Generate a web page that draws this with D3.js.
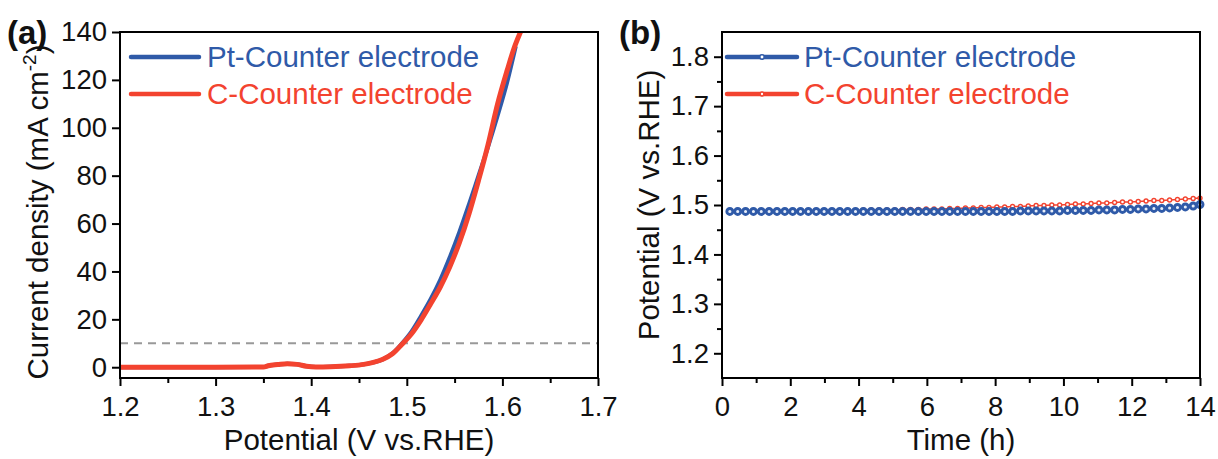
<!DOCTYPE html>
<html>
<head>
<meta charset="utf-8">
<script src="https://cdn.jsdelivr.net/npm/d3@7"></script>
<style>
  body { margin: 0; background: #fff; }
  svg { font-family: "Liberation Sans", Arial, sans-serif; }
  .axis path, .axis line { stroke: #000; stroke-width: 2; }
  .axis text { font-size: 27.5px; fill: #111; font-family: "Liberation Sans", Arial, sans-serif; }
</style>
</head>
<body>
<svg id="chart" width="1218" height="459"></svg>
<script>
// (a) LSV curves
var potC = [1.200, 1.250, 1.300, 1.350, 1.355, 1.365, 1.375, 1.385, 1.395, 1.405, 1.420, 1.440, 1.455, 1.465, 1.475, 1.485, 1.495, 1.505, 1.515, 1.525, 1.535, 1.545, 1.555, 1.565, 1.575, 1.585, 1.595, 1.605, 1.612, 1.620];
var curC = [0, 0, 0, 0.1, 0.6, 1.1, 1.5, 1.2, 0.4, 0.1, 0.2, 0.6, 1.2, 2.0, 3.3, 5.6, 9.6, 14.0, 19.8, 26.5, 33.5, 42, 52, 64, 78, 93, 110, 124, 133, 141];
var potPt = [1.200, 1.250, 1.300, 1.350, 1.355, 1.365, 1.375, 1.385, 1.395, 1.405, 1.420, 1.440, 1.455, 1.465, 1.475, 1.485, 1.495, 1.505, 1.515, 1.525, 1.535, 1.545, 1.555, 1.565, 1.575, 1.585, 1.595, 1.605, 1.614];
var curPt = [0, 0, 0, 0.1, 0.6, 1.1, 1.5, 1.2, 0.4, 0.1, 0.2, 0.6, 1.2, 2.0, 3.3, 5.8, 10, 15, 21.5, 28.5, 36.5, 46, 56.5, 68, 80, 92, 105, 119, 134];
var refCurrent = 10;

// (b) chronopotentiometry
var timeH = [0.23, 0.46, 0.69, 0.92, 1.15, 1.38, 1.61, 1.84, 2.07, 2.30,
  2.53, 2.76, 2.99, 3.22, 3.45, 3.68, 3.91, 4.14, 4.37, 4.60,
  4.83, 5.06, 5.29, 5.52, 5.75, 5.98, 6.21, 6.44, 6.67, 6.90,
  7.13, 7.36, 7.59, 7.82, 8.05, 8.28, 8.51, 8.74, 8.97, 9.20,
  9.43, 9.66, 9.89, 10.12, 10.35, 10.58, 10.81, 11.04, 11.27, 11.50,
  11.73, 11.96, 12.19, 12.42, 12.65, 12.88, 13.11, 13.34, 13.57, 13.80, 14.00];
var vPt = [1.487, 1.487, 1.487, 1.487, 1.487, 1.487, 1.487, 1.487, 1.487, 1.487,
  1.487, 1.487, 1.487, 1.487, 1.487, 1.487, 1.487, 1.487, 1.487, 1.487,
  1.487, 1.487, 1.487, 1.487, 1.487, 1.487, 1.487, 1.487, 1.487, 1.487,
  1.487, 1.487, 1.487, 1.487, 1.487, 1.487, 1.487, 1.488, 1.488, 1.488,
  1.488, 1.488, 1.488, 1.489, 1.489, 1.489, 1.489, 1.490, 1.490, 1.490,
  1.491, 1.491, 1.492, 1.492, 1.493, 1.493, 1.494, 1.495, 1.496, 1.498, 1.501];
var vC = [1.489, 1.489, 1.489, 1.489, 1.489, 1.489, 1.489, 1.489, 1.489, 1.489,
  1.489, 1.489, 1.489, 1.489, 1.489, 1.489, 1.489, 1.490, 1.490, 1.490,
  1.490, 1.490, 1.491, 1.491, 1.491, 1.492, 1.492, 1.492, 1.493, 1.493,
  1.494, 1.494, 1.495, 1.495, 1.496, 1.496, 1.497, 1.497, 1.498, 1.499,
  1.499, 1.500, 1.500, 1.501, 1.502, 1.502, 1.503, 1.504, 1.504, 1.505,
  1.506, 1.506, 1.507, 1.508, 1.509, 1.509, 1.510, 1.511, 1.512, 1.513, 1.514];

var seriesNames = ["Pt-Counter electrode", "C-Counter electrode"];
var xTicksA = [1.2, 1.3, 1.4, 1.5, 1.6, 1.7];
var yTicksA = [0, 20, 40, 60, 80, 100, 120, 140];
var xTicksB = [0, 2, 4, 6, 8, 10, 12, 14];
var yTicksB = [1.2, 1.3, 1.4, 1.5, 1.6, 1.7, 1.8];

var blue = "#2f5aa8";
var red = "#f3432f";
var fs = 29.5;

var svg = d3.select("#chart");

function frame(g, w, h) {
  g.append("rect")
    .attr("width", w).attr("height", h)
    .attr("fill", "none").attr("stroke", "#000").attr("stroke-width", 2);
}

function xAxisWithMinor(g, scale, major, minor, h) {
  g.append("g").attr("class", "axis")
    .attr("transform", "translate(0," + h + ")")
    .call(d3.axisBottom(scale).tickValues(minor).tickSize(5).tickFormat(""))
    .call(function(s) { s.select(".domain").remove(); });
  g.append("g").attr("class", "axis")
    .attr("transform", "translate(0," + h + ")")
    .call(d3.axisBottom(scale).tickValues(major).tickSize(8).tickPadding(10)
      .tickFormat(function(d) { return d3.format("")(d); }))
    .call(function(s) { s.select(".domain").remove(); });
}

// ---------- panel (a)
(function () {
  var m = {left: 120, top: 32};
  var w = 478, h = 346;
  var g = svg.append("g").attr("transform", "translate(" + m.left + "," + m.top + ")");

  var x = d3.scaleLinear().domain([1.2, 1.7]).range([0, w]);
  var y = d3.scaleLinear().domain([-4.5, 140]).range([h, 0]);

  g.append("clipPath").attr("id", "clipA")
    .append("rect").attr("width", w).attr("height", h);

  g.append("line")
    .attr("x1", 0).attr("x2", w)
    .attr("y1", y(refCurrent)).attr("y2", y(refCurrent))
    .attr("stroke", "#999").attr("stroke-width", 2).attr("stroke-dasharray", "8,6");

  var line = d3.line()
    .x(function(d) { return x(d[0]); })
    .y(function(d) { return y(d[1]); })
    .curve(d3.curveMonotoneX);

  var plot = g.append("g").attr("clip-path", "url(#clipA)");
  plot.append("path")
    .datum(d3.zip(potPt, curPt))
    .attr("d", line)
    .attr("fill", "none").attr("stroke", blue).attr("stroke-width", 4);
  plot.append("path")
    .datum(d3.zip(potC, curC))
    .attr("d", line)
    .attr("fill", "none").attr("stroke", red).attr("stroke-width", 5);

  xAxisWithMinor(g, x, xTicksA, [1.25, 1.35, 1.45, 1.55, 1.65], h);
  g.append("g").attr("class", "axis")
    .call(d3.axisLeft(y).tickValues(yTicksA).tickSize(8).tickPadding(5))
    .call(function(s) { s.select(".domain").remove(); });
  frame(g, w, h);

  // legend
  [blue, red].forEach(function(c, i) {
    var ly = 25 + i * 37;
    g.append("line").attr("x1", 11).attr("x2", 79).attr("y1", ly).attr("y2", ly)
      .attr("stroke", c).attr("stroke-width", 4.5).attr("stroke-linecap", "round");
    g.append("text").attr("x", 87).attr("y", ly + 10)
      .attr("font-size", fs).attr("fill", c).text(seriesNames[i]);
  });

  svg.append("text")
    .attr("x", m.left + w / 2).attr("y", 450)
    .attr("text-anchor", "middle").attr("font-size", fs).attr("fill", "#111")
    .text("Potential (V vs.RHE)");

  var yt = svg.append("text")
    .attr("transform", "translate(48," + (m.top + h / 2 + 7) + ") rotate(-90)")
    .attr("text-anchor", "middle").attr("font-size", fs).attr("fill", "#111");
  yt.append("tspan").text("Current density (mA cm");
  yt.append("tspan").attr("font-size", 19).attr("dy", -12).text("-2");
  yt.append("tspan").attr("dy", 12).text(")");

  svg.append("text").attr("x", 7).attr("y", 44)
    .attr("font-size", 33).attr("font-weight", "bold").attr("fill", "#111").text("(a)");
})();

// ---------- panel (b)
(function () {
  var m = {left: 722, top: 32};
  var w = 478, h = 346;
  var g = svg.append("g").attr("transform", "translate(" + m.left + "," + m.top + ")");

  var x = d3.scaleLinear().domain([0, 14]).range([0, w]);
  var y = d3.scaleLinear().domain([1.15, 1.85]).range([h, 0]);

  var line = d3.line()
    .x(function(d) { return x(d[0]); })
    .y(function(d) { return y(d[1]); });

  var cData = d3.zip(timeH, vC);
  var ptData = d3.zip(timeH, vPt);

  g.append("path").datum(cData).attr("d", line)
    .attr("fill", "none").attr("stroke", red).attr("stroke-width", 1.5);
  g.selectAll(".mc").data(cData).enter().append("circle")
    .attr("class", "mc")
    .attr("cx", function(d) { return x(d[0]); })
    .attr("cy", function(d) { return y(d[1]); })
    .attr("r", 2).attr("fill", "#fff").attr("stroke", red).attr("stroke-width", 1.4);

  g.append("path").datum(ptData).attr("d", line)
    .attr("fill", "none").attr("stroke", blue).attr("stroke-width", 2);
  g.selectAll(".mp").data(ptData).enter().append("circle")
    .attr("class", "mp")
    .attr("cx", function(d) { return x(d[0]); })
    .attr("cy", function(d) { return y(d[1]); })
    .attr("r", 3).attr("fill", "#e8eef8").attr("stroke", blue).attr("stroke-width", 2.9);

  xAxisWithMinor(g, x, xTicksB, [1, 3, 5, 7, 9, 11, 13], h);
  g.append("g").attr("class", "axis")
    .call(d3.axisLeft(y).tickValues([1.25, 1.35, 1.45, 1.55, 1.65, 1.75]).tickSize(5).tickFormat(""))
    .call(function(s) { s.select(".domain").remove(); });
  g.append("g").attr("class", "axis")
    .call(d3.axisLeft(y).tickValues(yTicksB).tickSize(8).tickPadding(5)
      .tickFormat(d3.format(".1f")))
    .call(function(s) { s.select(".domain").remove(); });
  frame(g, w, h);

  // legend
  [blue, red].forEach(function(c, i) {
    var ly = 25 + i * 37;
    g.append("line").attr("x1", 5).attr("x2", 75).attr("y1", ly).attr("y2", ly)
      .attr("stroke", c).attr("stroke-width", 4.5).attr("stroke-linecap", "round");
    g.append("circle").attr("cx", 40).attr("cy", ly).attr("r", i === 0 ? 2.2 : 1.9)
      .attr("fill", "#fff").attr("stroke", c).attr("stroke-width", 1.5);
    g.append("text").attr("x", 82).attr("y", ly + 10)
      .attr("font-size", fs).attr("fill", c).text(seriesNames[i]);
  });

  svg.append("text")
    .attr("x", m.left + w / 2).attr("y", 450)
    .attr("text-anchor", "middle").attr("font-size", fs).attr("fill", "#111")
    .text("Time (h)");

  svg.append("text")
    .attr("transform", "translate(659," + (m.top + h / 2) + ") rotate(-90)")
    .attr("text-anchor", "middle").attr("font-size", fs).attr("fill", "#111")
    .text("Potential (V vs.RHE)");

  svg.append("text").attr("x", 619).attr("y", 44)
    .attr("font-size", 33).attr("font-weight", "bold").attr("fill", "#111").text("(b)");
})();
</script>
</body>
</html>
